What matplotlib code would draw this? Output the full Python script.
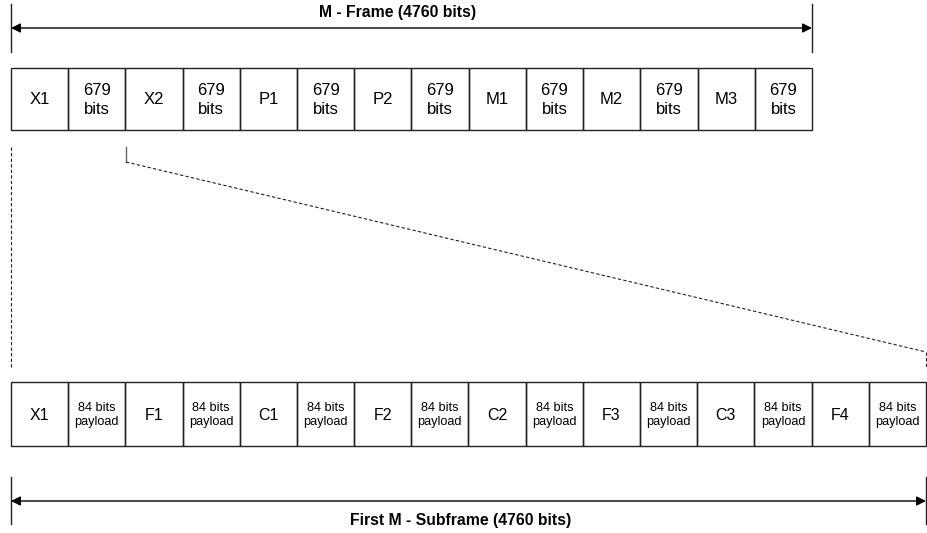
import matplotlib
matplotlib.use("Agg")
import matplotlib.pyplot as plt
from matplotlib.patches import Rectangle

plt.rcParams['font.family'] = ['Liberation Sans', 'DejaVu Sans']

top_labels = ["X1", "679\nbits", "X2", "679\nbits", "P1", "679\nbits", "P2", "679\nbits",
              "M1", "679\nbits", "M2", "679\nbits", "M3", "679\nbits"]
bottom_labels = ["X1", "84 bits\npayload", "F1", "84 bits\npayload", "C1", "84 bits\npayload",
                 "F2", "84 bits\npayload", "C2", "84 bits\npayload", "F3", "84 bits\npayload",
                 "C3", "84 bits\npayload", "F4", "84 bits\npayload"]
top_title = "M - Frame (4760 bits)"
bottom_title = "First M - Subframe (4760 bits)"

W, H = 927, 533
fig = plt.figure(figsize=(W / 100, H / 100), dpi=100)
ax = fig.add_axes([0, 0, 1, 1])
ax.set_xlim(0, W)
ax.set_ylim(H, 0)
ax.axis('off')

lc = '#222222'

def row(labels, x0, x1, y0, y1, fs_big, fs_small, ls):
    n = len(labels)
    w = (x1 - x0) / n
    for i, lab in enumerate(labels):
        ax.add_patch(Rectangle((x0 + i * w, y0), w, y1 - y0, fill=False, ec=lc, lw=1.0))
        fs = fs_big if "\n" not in lab else fs_small
        ax.text(x0 + (i + 0.5) * w, (y0 + y1) / 2 + 1, lab, ha='center', va='center',
                fontsize=fs, linespacing=ls, color='black')

def dim_arrow(x0, x1, y, ytop, ybot, title, tx, ty):
    ax.plot([x0, x0], [ytop, ybot], color=lc, lw=1.0)
    ax.plot([x1, x1], [ytop, ybot], color=lc, lw=1.0)
    ax.annotate("", xy=(x0, y), xytext=(x1, y),
                arrowprops=dict(arrowstyle='<|-|>', color='black', lw=1.0,
                                mutation_scale=14, shrinkA=0, shrinkB=0))
    ax.text(tx, ty, title, ha='center', va='center', fontsize=11.3,
            fontweight='bold')

# top section
dim_arrow(11, 812, 28, 4, 52, top_title, 398, 13)
row(top_labels, 11, 812, 68, 130, 12, 12, 1.3)

# bottom section
row(bottom_labels, 11, 926, 382, 446, 11.5, 9.2, 1.3)
dim_arrow(11, 926, 501, 477, 524, bottom_title, 461, 521)

# zoom connector lines
ax.plot([11, 11], [147, 367], color=lc, lw=0.8, ls=(0, (3, 2)))
ax.plot([126, 126], [147, 162], color='#666666', lw=1.0)
ax.plot([126, 926], [162, 352], color=lc, lw=0.8, ls=(0, (3, 2)))
ax.plot([926, 926], [352, 367], color=lc, lw=0.8, ls=(0, (3, 2)))

fig.savefig("out.png", dpi=100, facecolor='white')
